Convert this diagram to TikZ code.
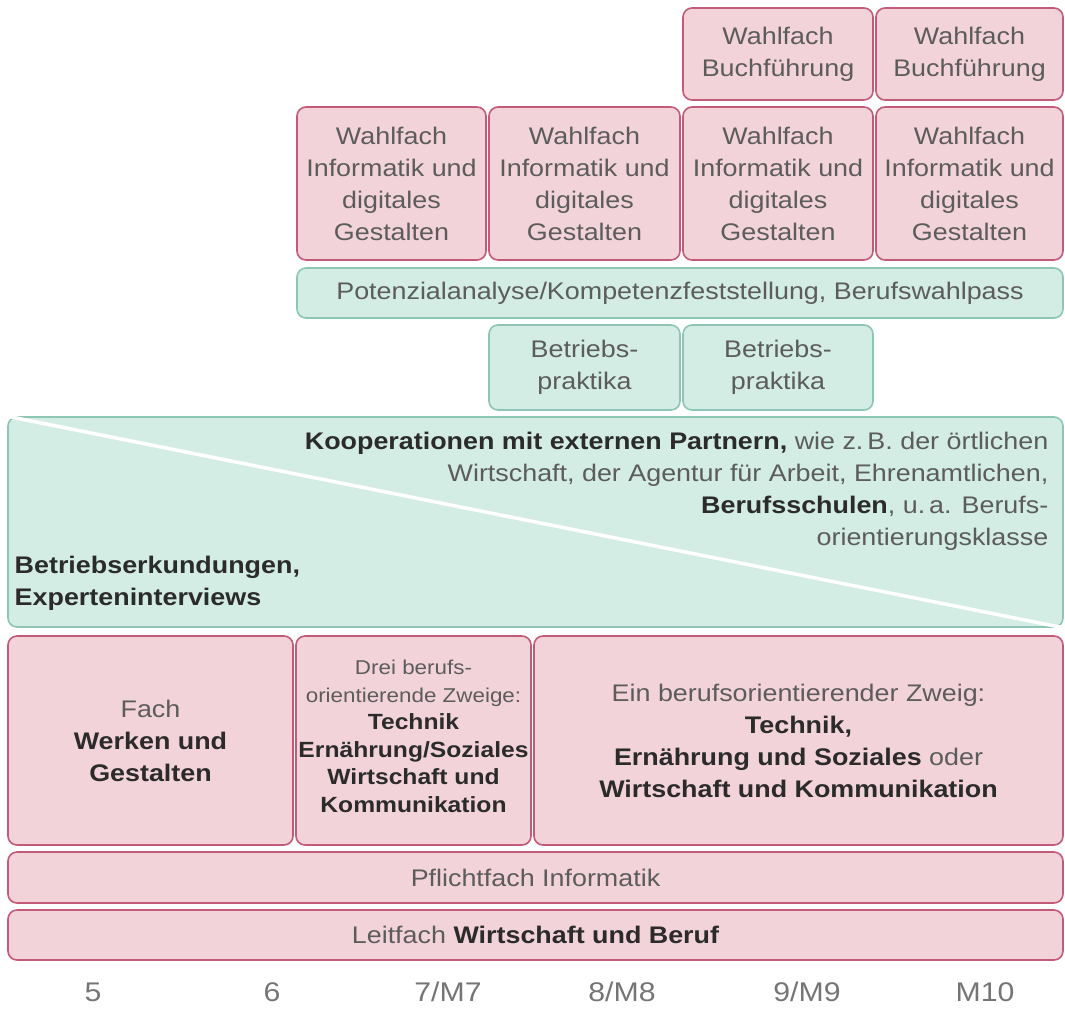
\documentclass[tikz,border=0pt]{standalone}
\usepackage{fontspec}
\setmainfont{Liberation Sans}[FakeStretch=1.12]

\definecolor{rosa}{HTML}{F2D3DA}
\definecolor{rosarand}{HTML}{C25A78}
\definecolor{mint}{HTML}{D3ECE4}
\definecolor{mintrand}{HTML}{8DC6B3}
\definecolor{grautext}{HTML}{5C5C5C}
\definecolor{dunkeltext}{HTML}{2B2B2B}

\newcommand{\fett}[1]{{\bfseries\color{dunkeltext}#1}}
\newcommand{\klein}{\fontsize{20}{27.5}\selectfont}
\newcommand{\mittel}{\fontsize{22}{27.5}\selectfont}
\newcommand{\normal}{\fontsize{24}{32}\selectfont}

\tikzset{
  feld/.style={line width=1.6pt, rounded corners=9pt, align=center,
    text=grautext, inner sep=0pt},
  rosabox/.style={feld, draw=rosarand, fill=rosa},
  mintbox/.style={feld, draw=mintrand, fill=mint},
  jahr/.style={text=grautext!85, font=\fontsize{27}{32}\selectfont}
}

\begin{document}
\begin{tikzpicture}[x=1pt, y=-1pt, font=\normal]
\useasboundingbox (0,0) rectangle (1065,1010);

% Wahlfaecher
\node[rosabox, minimum width=190, minimum height=92] (buch1) at (778,54) {Wahlfach\\Buchführung};
\node[rosabox, minimum width=187, minimum height=92] (buch2) at (969.5,54) {Wahlfach\\Buchführung};
\node[rosabox, minimum width=189, minimum height=153] (info1) at (391.5,183.5) {Wahlfach\\Informatik und\\digitales\\Gestalten};
\node[rosabox, minimum width=191, minimum height=153] (info2) at (584.5,183.5) {Wahlfach\\Informatik und\\digitales\\Gestalten};
\node[rosabox, minimum width=190, minimum height=153] (info3) at (778,183.5) {Wahlfach\\Informatik und\\digitales\\Gestalten};
\node[rosabox, minimum width=187, minimum height=153] (info4) at (969.5,183.5) {Wahlfach\\Informatik und\\digitales\\Gestalten};

% Berufsorientierung
\node[mintbox, minimum width=766, minimum height=50] (pot) at (680,293) {Potenzialanalyse/Kompetenzfeststellung, Berufswahlpass};
\node[mintbox, minimum width=191, minimum height=85] (prak1) at (584.5,367.5) {Betriebs-\\praktika};
\node[mintbox, minimum width=190, minimum height=85] (prak2) at (778,367.5) {Betriebs-\\praktika};

% Kooperationen
\node[mintbox, minimum width=1055, minimum height=210] (koop) at (535.5,522) {};
\draw[white, line width=3.5pt] (koop.north west) -- (koop.south east);
\node[anchor=north east, align=right, text=grautext] (partner) at ([xshift=-12pt, yshift=-12pt]koop.north east)
  {\fett{Kooperationen mit externen Partnern,} wie z.\,B. der örtlichen\\
   Wirtschaft, der Agentur für Arbeit, Ehrenamtlichen,\\
   \fett{Berufsschulen}, u.\,a. Berufs-\\
   orientierungsklasse};
\node[anchor=south west, align=left, text=grautext] (erkund) at ([xshift=4pt, yshift=14pt]koop.south west)
  {\fett{Betriebserkundungen,}\\\fett{Experteninterviews}};

% Faecher
\node[rosabox, minimum width=285, minimum height=209] (werken) at (150.5,740.5) {Fach\\\fett{Werken und}\\\fett{Gestalten}};
\node[rosabox, minimum width=235, minimum height=209, font=\mittel] (drei) at (413.5,740.5) {};
\node[align=center, text=grautext, font=\mittel, inner sep=0pt] (dreitext) at ([yshift=4pt]drei.center)
  {\klein Drei berufs-\\\klein orientierende Zweige:\\
   \fett{Technik}\\\fett{Ernährung/Soziales}\\\fett{Wirtschaft und}\\\fett{Kommunikation}};
\node[rosabox, minimum width=529, minimum height=209] (ein) at (798.5,740.5)
  {Ein berufsorientierender Zweig:\\\fett{Technik,}\\\fett{Ernährung und Soziales} oder\\\fett{Wirtschaft und Kommunikation}};
\node[rosabox, minimum width=1055, minimum height=51] (pflicht) at (535.5,877.5) {Pflichtfach Informatik};
\node[rosabox, minimum width=1055, minimum height=50] (leit) at (535.5,935) {Leitfach \fett{Wirtschaft und Beruf}};

% Jahrgangsstufen
\node[jahr] (j5) at (93,992) {5};
\node[jahr] (j6) at (272,992) {6};
\node[jahr] (j7) at (448,992) {7/M7};
\node[jahr] (j8) at (622,992) {8/M8};
\node[jahr] (j9) at (807,992) {9/M9};
\node[jahr] (j10) at (985,992) {M10};
\end{tikzpicture}
\end{document}
